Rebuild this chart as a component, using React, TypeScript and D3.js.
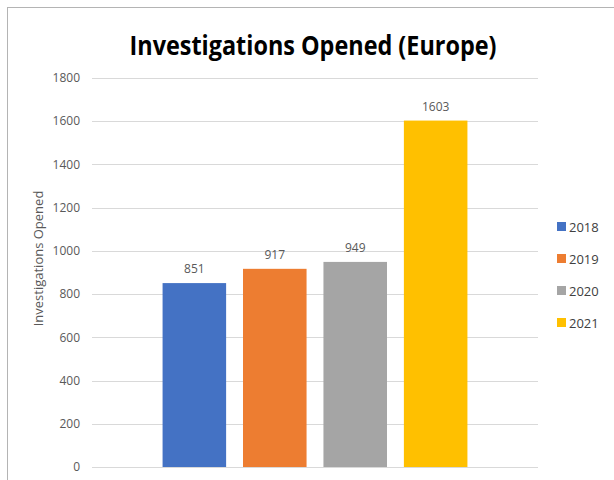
import { useEffect, useRef } from 'react';
import * as d3 from 'd3';

const years = ['2018', '2019', '2020', '2021'];
const opened = [851, 917, 949, 1603];
const colors = ['#4472c4', '#ed7d31', '#a5a5a5', '#ffc000'];
const yTicks = [0, 200, 400, 600, 800, 1000, 1200, 1400, 1600, 1800];

const W = 614;
const H = 480;

export default function App() {
  const svgRef = useRef<SVGSVGElement>(null);

  useEffect(() => {
    if (!svgRef.current) return;
    const svg = d3.select(svgRef.current);
    svg.selectAll('*').remove();

    const font = 'Open Sans, Noto Sans, sans-serif';
    const plot = { left: 92, right: 538, top: 78, bottom: 467 };

    // outer border of the chart area (cut off at right/bottom in the screenshot)
    svg.append('rect')
      .attr('x', 7.5).attr('y', 7.5)
      .attr('width', W + 20).attr('height', H + 20)
      .attr('fill', '#fff')
      .attr('stroke', '#b4b4b4');

    const y = d3.scaleLinear().domain([0, 1800]).range([plot.bottom, plot.top]);
    const group = d3.scaleBand().domain(['Europe']).range([plot.left, plot.right]).paddingOuter(0.2315);
    const x = d3.scaleBand().domain(years)
      .range([group('Europe')!, group('Europe')! + group.bandwidth()])
      .paddingInner(0.21);

    // gridlines
    svg.append('g')
      .selectAll('line')
      .data(yTicks)
      .join('line')
      .attr('x1', plot.left).attr('x2', plot.right)
      .attr('y1', d => Math.round(y(d)) + 0.5).attr('y2', d => Math.round(y(d)) + 0.5)
      .attr('stroke', '#d9d9d9')
      .attr('stroke-width', 1);

    // tick labels
    svg.append('g')
      .selectAll('text')
      .data(yTicks)
      .join('text')
      .attr('x', 80)
      .attr('y', d => y(d))
      .attr('dy', '0.35em')
      .attr('text-anchor', 'end')
      .attr('font-family', font)
      .attr('font-size', 12)
      .attr('fill', '#595959')
      .text(d => d);

    // bars
    svg.append('g')
      .selectAll('rect')
      .data(opened)
      .join('rect')
      .attr('x', (_, i) => x(years[i])!)
      .attr('y', d => y(d))
      .attr('width', x.bandwidth())
      .attr('height', d => y(0) - y(d))
      .attr('fill', (_, i) => colors[i]);

    // value labels
    svg.append('g')
      .selectAll('text')
      .data(opened)
      .join('text')
      .attr('x', (_, i) => x(years[i])! + x.bandwidth() / 2)
      .attr('y', d => y(d) - 10)
      .attr('text-anchor', 'middle')
      .attr('font-family', font)
      .attr('font-size', 12)
      .attr('fill', '#595959')
      .text(d => d);

    // title
    svg.append('text')
      .attr('x', 313)
      .attr('y', 55)
      .attr('text-anchor', 'middle')
      .attr('font-family', font)
      .attr('font-weight', 'bold')
      .attr('font-size', 26)
      .attr('textLength', 367)
      .attr('lengthAdjust', 'spacingAndGlyphs')
      .attr('fill', '#000')
      .text('Investigations Opened (Europe)');

    // y axis title
    svg.append('text')
      .attr('transform', `translate(43,${(plot.top + plot.bottom) / 2 - 14}) rotate(-90)`)
      .attr('text-anchor', 'middle')
      .attr('font-family', font)
      .attr('font-size', 13)
      .attr('fill', '#595959')
      .text('Investigations Opened');

    // legend
    const legend = svg.append('g')
      .selectAll('g')
      .data(years)
      .join('g')
      .attr('transform', (_, i) => `translate(557,${227 + i * 32})`);
    legend.append('rect')
      .attr('x', 0).attr('y', -5)
      .attr('width', 9).attr('height', 9)
      .attr('fill', (_, i) => colors[i]);
    legend.append('text')
      .attr('x', 12)
      .attr('y', 0)
      .attr('dy', '0.35em')
      .attr('font-family', font)
      .attr('font-size', 13)
      .attr('fill', '#404040')
      .text(d => d);
  }, []);

  return (
    <svg
      ref={svgRef}
      width={W}
      height={H}
      style={{ position: 'absolute', left: 0, top: 0, background: '#fff' }}
    />
  );
}
